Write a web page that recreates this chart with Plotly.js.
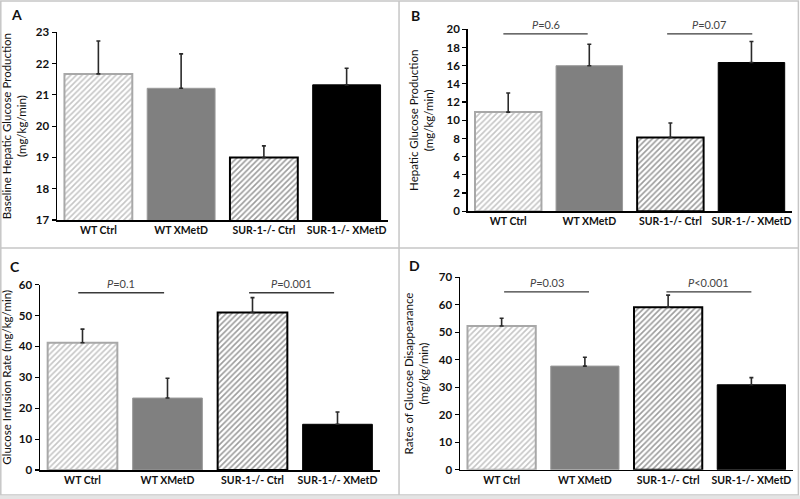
<!DOCTYPE html>
<html>
<head>
<meta charset="utf-8">
<script src="https://cdn.plot.ly/plotly-3.0.1.min.js"></script>
<style>html,body{margin:0;padding:0;background:#fff;}#chart{width:800px;height:499px;}</style>
</head>
<body>
<div id="chart"></div>
<script>
// ---- data ----
const categories = ['WT Ctrl', 'WT XMetD', 'SUR-1-/- Ctrl', 'SUR-1-/- XMetD'];
const baselineHGP = [21.67, 21.21, 19.0, 21.32];
const baselineHGPErr = [1.05, 1.1, 0.37, 0.53];
const hgp = [10.9, 16.0, 8.1, 16.35];
const hgpErr = [2.1, 2.35, 1.6, 2.3];
const gir = [41.2, 23.3, 51.0, 14.8];
const girErr = [4.4, 6.4, 4.8, 4.0];
const rd = [52.3, 37.7, 59.1, 30.9];
const rdErr = [2.8, 3.2, 4.4, 2.6];
const pLabelsB = ['<i>P</i>=0.6', '<i>P</i>=0.07'];
const pLabelsC = ['<i>P</i>=0.1', '<i>P</i>=0.001'];
const pLabelsD = ['<i>P</i>=0.03', '<i>P</i><0.001'];
const pLineY = {B: 19.5, C: 57.4, D: 64.7};

// ---- styles ----
const FONT = 'Lato, "Liberation Sans", sans-serif';
const barColors = ['#c6c6c6', '#808080', '#9c9c9c', '#000000'];
const patShapes = ['/', '', '/', ''];
const patFg = ['#dcdcdc', '#808080', '#b6b6b6', '#000000'];
const lineColors = ['#a8a8a8', '#9a9a9a', '#000000', '#000000'];
const lineWidths = [2, 1, 2, 1];

function barTrace(vals, errs, xa, ya) {
  return {
    type: 'bar', x: categories, y: vals, xaxis: xa, yaxis: ya,
    marker: {
      color: barColors,
      line: {color: lineColors, width: lineWidths},
      pattern: {shape: patShapes, fgcolor: patFg, size: 4, solidity: 0.4}
    },
    error_y: {type: 'data', symmetric: false, array: errs, arrayminus: errs.map(() => 0),
              color: '#2a2a2a', thickness: 1.6, width: 2},
    showlegend: false, hoverinfo: 'skip'
  };
}

const data = [
  barTrace(baselineHGP, baselineHGPErr, 'x', 'y'),
  barTrace(hgp, hgpErr, 'x2', 'y2'),
  barTrace(gir, girErr, 'x3', 'y3'),
  barTrace(rd, rdErr, 'x4', 'y4')
];

function xax(domain, anchor) {
  return {domain: domain, anchor: anchor, type: 'category', showline: true, linecolor: '#000', linewidth: 1.5,
    ticks: '', showgrid: false, zeroline: false, fixedrange: true,
    tickfont: {family: FONT, size: 10.5, color: '#111', weight: 'bold'}};
}
function yax(domain, anchor, range, dtick, title, standoff) {
  return {domain: domain, anchor: anchor, range: range, dtick: dtick, showline: true, linecolor: '#000', linewidth: 1.5,
    ticks: 'outside', ticklen: 4, tickcolor: '#000', tickwidth: 1.2, showgrid: false, zeroline: false,
    tickfont: {family: FONT, size: 11.5, color: '#111', weight: 'bold'},
    title: {text: title, font: {family: FONT, size: 11.5, color: '#111'}, standoff: standoff}};
}

const shapes = [
  // panel borders
  {type: 'rect', xref: 'paper', yref: 'paper', x0: 0.001, x1: 0.998, y0: 0.008, y1: 0.998, line: {color: '#c6c6c6', width: 1.5}},
  {type: 'line', xref: 'paper', yref: 'paper', x0: 0.4988, x1: 0.4988, y0: 0.008, y1: 0.998, line: {color: '#c6c6c6', width: 1.5}},
  {type: 'line', xref: 'paper', yref: 'paper', x0: 0.001, x1: 0.998, y0: 0.503, y1: 0.503, line: {color: '#c6c6c6', width: 1.5}},
  {type: 'rect', xref: 'paper', yref: 'paper', x0: 0, x1: 1, y0: 0, y1: 0.007, fillcolor: '#e4e4e4', line: {width: 0}},
  // p-value lines
  {type: 'line', xref: 'x2', yref: 'y2', x0: -0.06, x1: 0.98, y0: pLineY.B, y1: pLineY.B, line: {color: '#3a3a3a', width: 1.4}},
  {type: 'line', xref: 'x2', yref: 'y2', x0: 1.96, x1: 3.01, y0: pLineY.B, y1: pLineY.B, line: {color: '#3a3a3a', width: 1.4}},
  {type: 'line', xref: 'x3', yref: 'y3', x0: -0.05, x1: 0.96, y0: pLineY.C, y1: pLineY.C, line: {color: '#3a3a3a', width: 1.4}},
  {type: 'line', xref: 'x3', yref: 'y3', x0: 1.96, x1: 2.96, y0: pLineY.C, y1: pLineY.C, line: {color: '#3a3a3a', width: 1.4}},
  {type: 'line', xref: 'x4', yref: 'y4', x0: 0.03, x1: 1.05, y0: pLineY.D, y1: pLineY.D, line: {color: '#3a3a3a', width: 1.4}},
  {type: 'line', xref: 'x4', yref: 'y4', x0: 1.98, x1: 3.0, y0: pLineY.D, y1: pLineY.D, line: {color: '#3a3a3a', width: 1.4}}
];

function pAnn(text, xpos, yval, xr, yr) {
  return {text: text, x: xpos, y: yval, xref: xr, yref: yr, showarrow: false, yanchor: 'bottom', yshift: 1,
    font: {family: FONT, size: 11, color: '#444'}};
}
function letter(t, x, y) {
  return {text: t, x: x, y: y, xref: 'paper', yref: 'paper', showarrow: false, xanchor: 'left', yanchor: 'middle',
    font: {family: FONT, size: 14, color: '#111', weight: 'bold'}};
}

const annotations = [
  letter('A', 9 / 800, 1 - 14 / 499),
  letter('B', 409 / 800, 1 - 15 / 499),
  letter('C', 8 / 800, 1 - 266 / 499),
  letter('D', 407 / 800, 1 - 265 / 499),
  pAnn(pLabelsB[0], 0.46, pLineY.B, 'x2', 'y2'),
  pAnn(pLabelsB[1], 2.48, pLineY.B, 'x2', 'y2'),
  pAnn(pLabelsC[0], 0.45, pLineY.C, 'x3', 'y3'),
  pAnn(pLabelsC[1], 2.46, pLineY.C, 'x3', 'y3'),
  pAnn(pLabelsD[0], 0.54, pLineY.D, 'x4', 'y4'),
  pAnn(pLabelsD[1], 2.49, pLineY.D, 'x4', 'y4')
];

const layout = {
  width: 800, height: 499, margin: {l: 0, r: 0, t: 0, b: 0},
  paper_bgcolor: '#ffffff', plot_bgcolor: 'rgba(0,0,0,0)',
  bargap: 0.18, showlegend: false,
  xaxis: xax([0.07125, 0.485], 'y'),
  yaxis: yax([0.5591, 0.9353], 'x', [17, 23], 1, 'Baseline Hepatic Glucose Production<br>(mg/kg/min)', 8),
  xaxis2: xax([0.5846, 0.99], 'y2'),
  yaxis2: yax([0.5766, 0.9413], 'x2', [0, 20], 2, 'Hepatic Glucose Production<br>(mg/kg/min)', 10),
  xaxis3: xax([0.05, 0.475], 'y3'),
  yaxis3: yax([0.0581, 0.4295], 'x3', [0, 60], 10, 'Glucose Infusion Rate (mg/kg/min)', 8),
  xaxis4: xax([0.575, 0.99125], 'y4'),
  yaxis4: yax([0.0587, 0.4443], 'x4', [0, 70], 10, 'Rates of Glucose Disappearance<br>(mg/kg/min)', 8),
  shapes: shapes,
  annotations: annotations,
  font: {family: FONT}
};

Plotly.newPlot('chart', data, layout, {staticPlot: true});
</script>
</body>
</html>
